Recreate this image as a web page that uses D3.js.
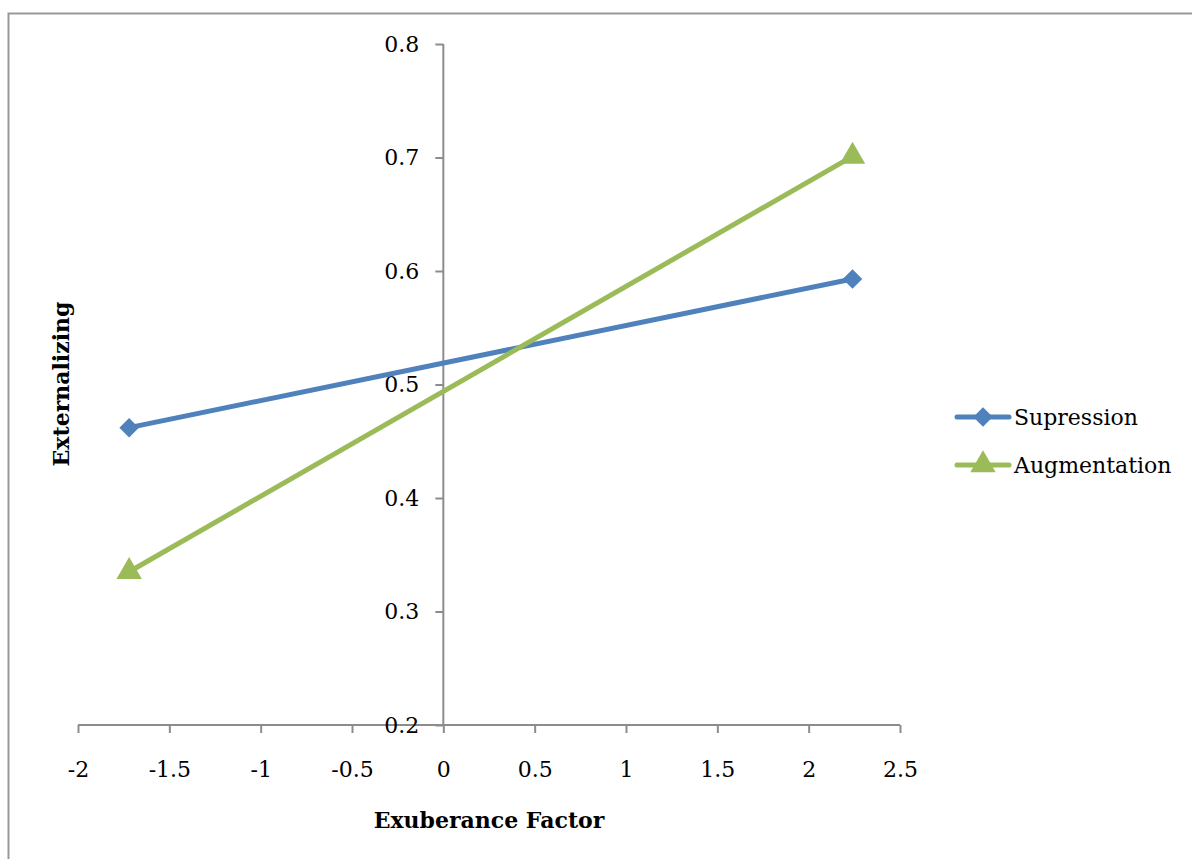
<!DOCTYPE html>
<html><head><meta charset="utf-8">
<script src="https://cdn.jsdelivr.net/npm/d3@7/dist/d3.min.js"></script>
<style>body{margin:0;background:#fff}svg{display:block}</style>
</head><body>
<script>
const xValues = [-1.72, 2.24];
const supression = [0.462, 0.593];
const augmentation = [0.335, 0.701];
const seriesNames = ["Supression", "Augmentation"];
const xTicks = [-2, -1.5, -1, -0.5, 0, 0.5, 1, 1.5, 2, 2.5];
const yTicks = [0.2, 0.3, 0.4, 0.5, 0.6, 0.7, 0.8];

const W = 1192, H = 859;
const font = "'DejaVu Serif', serif";
const fs = 22;
const svg = d3.select("body").append("svg").attr("width", W).attr("height", H);

svg.append("rect").attr("x", 8.5).attr("y", 13.5).attr("width", W).attr("height", H)
  .attr("fill", "none").attr("stroke", "#999").attr("stroke-width", 2);

const x = d3.scaleLinear().domain([-2, 2.5]).range([78, 900]);
const y = d3.scaleLinear().domain([0.2, 0.8]).range([725, 44]);
const axisColor = "#8c8c8c";

const xa = svg.append("g").attr("transform", `translate(0,${y(0.2)})`)
  .call(d3.axisBottom(x).tickValues(xTicks).tickSize(8).tickPadding(28).tickFormat(d => String(d)));
xa.select(".domain").attr("stroke", axisColor).attr("stroke-width", 2).attr("d", `M${x(-2)},0H${x(2.5)}`);
xa.selectAll(".tick line").attr("stroke", axisColor).attr("stroke-width", 2);
xa.selectAll("text").attr("font-family", font).attr("font-size", fs).attr("fill", "#000");

const ya = svg.append("g").attr("transform", `translate(${x(0)},0)`)
  .call(d3.axisLeft(y).tickValues(yTicks).tickSize(8).tickPadding(16).tickFormat(d3.format(".1f")));
ya.select(".domain").attr("stroke", axisColor).attr("stroke-width", 2).attr("d", `M0,${y(0.8)}V${y(0.2)}`);
ya.selectAll(".tick line").attr("stroke", axisColor).attr("stroke-width", 2);
ya.selectAll("text").attr("font-family", font).attr("font-size", fs).attr("fill", "#000");

const diamond = {draw(ctx, size) { const r = Math.sqrt(size) / 2 * Math.SQRT2;
  ctx.moveTo(0, -r); ctx.lineTo(r, 0); ctx.lineTo(0, r); ctx.lineTo(-r, 0); ctx.closePath(); }};

const series = [
  {name: seriesNames[0], vals: supression, color: "#4f81bd", sym: diamond, size: 190},
  {name: seriesNames[1], vals: augmentation, color: "#9bbb59", sym: d3.symbolTriangle, size: 280}
];
const line = d3.line().x(d => x(d[0])).y(d => y(d[1]));
series.forEach(s => {
  const pts = xValues.map((xv, i) => [xv, s.vals[i]]);
  svg.append("path").datum(pts).attr("d", line).attr("fill", "none")
    .attr("stroke", s.color).attr("stroke-width", 5).attr("stroke-linecap", "round");
  svg.selectAll(null).data(pts).enter().append("path")
    .attr("d", d3.symbol().type(s.sym).size(s.size))
    .attr("transform", d => `translate(${x(d[0])},${y(d[1])})`)
    .attr("fill", s.color);
});

series.forEach((s, i) => {
  const ly = 417 + i * 48;
  svg.append("line").attr("x1", 957).attr("x2", 1009).attr("y1", ly).attr("y2", ly)
    .attr("stroke", s.color).attr("stroke-width", 5).attr("stroke-linecap", "round");
  svg.append("path").attr("d", d3.symbol().type(s.sym).size(s.size))
    .attr("transform", `translate(983,${ly})`).attr("fill", s.color);
  svg.append("text").attr("x", 1014).attr("y", ly + 8).text(s.name)
    .attr("font-family", font).attr("font-size", fs).attr("fill", "#000");
});

svg.append("text").attr("x", 489).attr("y", 828).attr("text-anchor", "middle")
  .attr("font-family", font).attr("font-weight", "bold").attr("font-size", fs).text("Exuberance Factor");
svg.append("text").attr("transform", "translate(69,384) rotate(-90)").attr("text-anchor", "middle")
  .attr("font-family", font).attr("font-weight", "bold").attr("font-size", fs).text("Externalizing");
</script>
</body></html>
